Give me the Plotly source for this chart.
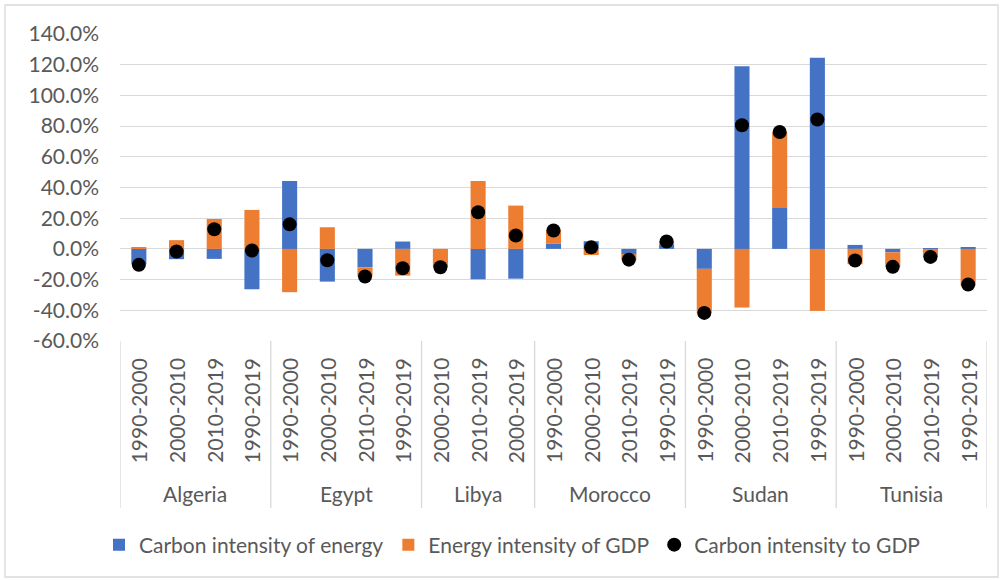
import plotly.graph_objects as go

# ---- data ----
countries = ["Algeria", "Egypt", "Libya", "Morocco", "Sudan", "Tunisia"]
periods = [
    "1990-2000", "2000-2010", "2010-2019", "1990-2019",
    "1990-2000", "2000-2010", "2010-2019", "1990-2019",
    "2000-2010", "2010-2019", "2000-2019",
    "1990-2000", "2000-2010", "2010-2019", "1990-2019",
    "1990-2000", "2000-2010", "2010-2019", "1990-2019",
    "1990-2000", "2000-2010", "2010-2019", "1990-2019",
]
group_sizes = [4, 4, 3, 4, 4, 4]

carbon_intensity_energy = [
    -10.0, -6.7, -6.5, -26.3,
    44.3, -21.3, -12.0, 4.8,
    0.0, -19.8, -19.4,
    3.3, 5.0, -3.3, 3.0,
    -13.0, 119.0, 26.7, 124.5,
    2.6, -2.2, 0.5, 0.8,
]
energy_intensity_gdp = [
    1.0, 5.7, 19.5, 25.4,
    -28.2, 14.1, -6.0, -17.4,
    -12.0, 44.3, 28.2,
    9.0, -4.0, -4.0, 2.0,
    -29.0, -38.2, 49.5, -40.4,
    -10.0, -9.5, -5.5, -24.0,
]
carbon_intensity_gdp = [
    -10.4, -1.7, 12.8, -1.0,
    16.0, -7.4, -18.0, -12.6,
    -12.0, 23.9, 8.7,
    12.0, 1.0, -7.0, 4.8,
    -41.7, 80.6, 76.2, 84.3,
    -7.6, -11.7, -5.2, -23.2,
]

y_tickvals = [-60, -40, -20, 0, 20, 40, 60, 80, 100, 120, 140]
y_ticktext = ["-60.0%", "-40.0%", "-20.0%", "0.0%", "20.0%", "40.0%",
              "60.0%", "80.0%", "100.0%", "120.0%", "140.0%"]

# ---- style ----
BLUE = "#4472C4"
ORANGE = "#ED7D31"
GRID = "#d9d9d9"
TEXT = "#595959"
FONT = "Lato, 'Open Sans', sans-serif"
FS = 21

W, H = 1003, 580
ML, MR, MT, MB = 120, 16, 34, 239
PW = W - ML - MR
PH = H - MT - MB

xs = list(range(len(periods)))

fig = go.Figure()
fig.add_trace(go.Bar(x=xs, y=carbon_intensity_energy, name="Carbon intensity of energy",
                     marker=dict(color=BLUE, line=dict(width=0)), width=0.4))
fig.add_trace(go.Bar(x=xs, y=energy_intensity_gdp, name="Energy intensity of GDP",
                     marker=dict(color=ORANGE, line=dict(width=0)), width=0.4))
fig.add_trace(go.Scatter(x=xs, y=carbon_intensity_gdp, name="Carbon intensity to GDP",
                         mode="markers", marker=dict(color="black", size=14)))

annotations = []
shapes = []

def px_to_paper_y(py):
    return (MT + PH - py) / PH

# category (period) labels, rotated
for i, p in enumerate(periods):
    annotations.append(dict(x=i, y=0, xref="x", yref="paper", text=p, textangle=-90,
                            showarrow=False, yanchor="top", xanchor="center", yshift=-15,
                            font=dict(family=FONT, size=FS, color=TEXT)))

# group labels and dividers
start = 0
boundaries = [-0.5]
for c, n in zip(countries, group_sizes):
    center = start + (n - 1) / 2
    annotations.append(dict(x=center, y=0, xref="x", yref="paper", text=c, showarrow=False,
                            yanchor="middle", xanchor="center", yshift=-152,
                            font=dict(family=FONT, size=FS, color=TEXT)))
    start += n
    boundaries.append(start - 0.5)

div_bottom = px_to_paper_y(508)
for b in boundaries:
    shapes.append(dict(type="line", xref="x", yref="paper", x0=b, x1=b, y0=0, y1=div_bottom,
                       line=dict(color=GRID, width=1.3)))

# outer chart border
shapes.append(dict(type="rect", xref="paper", yref="paper",
                   x0=(5 - ML) / PW, x1=(998 - ML) / PW,
                   y0=px_to_paper_y(577), y1=px_to_paper_y(5),
                   line=dict(color=GRID, width=1.3), fillcolor="rgba(0,0,0,0)", layer="below"))

fig.update_layout(
    width=W, height=H,
    margin=dict(l=ML, r=MR, t=MT, b=MB),
    barmode="relative",
    plot_bgcolor="white", paper_bgcolor="white",
    font=dict(family=FONT, size=FS, color=TEXT),
    showlegend=True,
    legend=dict(orientation="h", x=(512 - ML) / PW, xanchor="center",
                y=px_to_paper_y(545), yanchor="middle",
                font=dict(family=FONT, size=FS, color=TEXT), itemwidth=30,
                bgcolor="rgba(0,0,0,0)"),
    annotations=annotations,
    shapes=shapes,
)
fig.update_xaxes(range=[-0.5, len(periods) - 0.5], showticklabels=False, showgrid=False,
                 zeroline=False, showline=False, fixedrange=True)
fig.update_yaxes(range=[-60, 140], tickvals=y_tickvals, ticktext=y_ticktext,
                 showgrid=True, gridcolor=GRID, gridwidth=1.3, zeroline=False,
                 showline=False, ticks="", ticklabelstandoff=20,
                 tickfont=dict(family=FONT, size=FS, color=TEXT))

fig.write_html("out.html", config={"displayModeBar": False},
               post_script="document.body.style.margin='0';")
